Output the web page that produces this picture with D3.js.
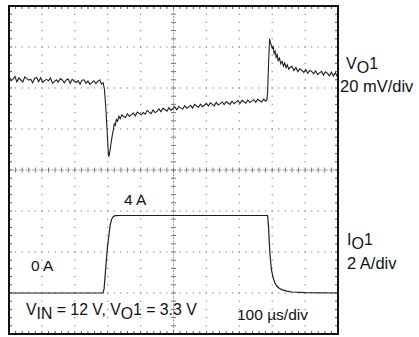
<!DOCTYPE html>
<html>
<head>
<meta charset="utf-8">
<script src="https://cdn.jsdelivr.net/npm/d3@7"></script>
<style>
  html, body { margin: 0; padding: 0; background: #fff; }
  svg { display: block; }
  text { font-family: "Liberation Sans", Arial, Helvetica, sans-serif; fill: #111; }
</style>
</head>
<body>
<svg id="chart" width="419" height="337"></svg>
<script>
// ---------- DATA ----------
// Time axis: 10 divisions x 100 µs
const timeDomain = [0, 1000];          // µs
const voltDomain = [-80, 80];          // mV offset of VO1 (20 mV/div, 8 div)
const currDomain = [-2, 14];           // A (2 A/div, 8 div)

// VO1 trace [time µs, mV deviation]
const voTrace = [
  [0,45.8],[6,43.6],[12,44.2],[18,45.6],[24,43.0],[30,44.9],[36,43.9],[42,42.9],[48,45.4],[54,44.6],
  [60,43.8],[66,44.3],[72,42.6],[78,44.8],[84,45.2],[90,43.1],[96,45.0],[102,42.8],[108,43.6],[114,44.2],
  [120,43.5],[126,44.9],[132,42.4],[138,43.1],[144,44.0],[150,42.9],[156,44.6],[162,43.9],[168,42.5],
  [174,43.9],[180,44.4],[186,42.2],[192,44.3],[198,43.4],[204,42.7],[210,43.6],[216,41.9],[222,43.8],
  [228,44.0],[234,42.3],[240,43.4],[246,41.8],[252,42.6],[258,43.5],[264,42.1],[270,43.2],[276,44.0],
  [281,41.9],[286,42.6],
  [290,39.5],[294,31.0],[298,20.0],[301,11.0],[303,6.5],[305,7.5],[308,10.5],[311,14.0],
  [314,17.0],[317,19.5],[320,22.5],[323,21.8],[326,24.6],[330,23.8],[334,26.2],[338,25.0],
  [343,26.9],[348,26.1],[354,25.6],[360,27.4],[366,26.1],[372,27.0],[378,27.8],[384,26.4],[390,28.3],
  [396,27.6],[402,26.9],[408,28.0],[414,27.2],[420,29.1],[426,28.2],[432,27.5],[438,29.3],[444,28.0],
  [450,28.6],[456,29.8],[462,28.4],[468,30.1],[474,29.5],[480,28.7],[486,30.4],[492,29.2],[498,29.9],
  [504,30.8],[510,29.4],[516,31.0],[522,30.3],[528,29.8],[534,31.4],[540,30.1],[546,30.7],[552,31.6],
  [558,30.2],[564,32.0],[570,31.2],[576,30.6],[582,32.1],[588,30.9],[594,31.6],[600,32.5],[606,31.2],
  [612,32.8],[618,32.0],[624,31.3],[630,33.0],[636,31.7],[642,32.4],[648,33.2],[654,31.9],[660,33.4],
  [666,32.7],[672,32.0],[678,33.6],[684,32.3],[690,33.1],[696,33.9],[702,32.4],[708,34.0],[714,33.3],
  [720,32.6],[726,34.2],[732,32.9],[738,33.6],[744,34.3],[750,33.0],[756,34.5],[762,33.8],[768,33.2],
  [774,34.6],[780,33.6],[784,34.2],
  [786,38.0],[789,52.0],[792,64.0],[794,62.5],[797,61.0],[800,59.5],[803,60.2],[806,56.8],
  [809,57.9],[812,55.0],[815,56.2],[818,53.4],[822,54.6],[826,51.8],[830,53.0],[834,50.7],
  [838,52.2],[842,49.9],[846,51.3],[850,49.2],[855,50.1],[860,50.6],[866,48.5],[872,50.0],[878,48.0],
  [884,49.4],[890,48.6],[896,47.6],[902,49.0],[908,47.2],[914,48.6],[920,48.1],[926,46.9],[932,48.4],
  [938,46.5],[944,47.4],[950,48.1],[956,46.3],[962,47.9],[968,47.1],[974,46.0],[980,47.7],[986,45.8],
  [992,47.5],[996,46.0],[1000,47.0]
];

// IO1 trace [time µs, A]
const ioTrace = [
  [0,0],[286,0],[289,0.2],[292,0.8],[296,1.6],[299,2.2],[302,2.6],[305,3.0],[308,3.35],
  [312,3.6],[317,3.72],[322,3.77],[340,3.78],[786,3.78],[789,3.2],[791,2.5],[793,1.95],
  [796,1.4],[798,1.12],[803,0.73],[808,0.5],[814,0.34],[822,0.22],[833,0.14],[845,0.09],
  [860,0.05],[900,0.02],[1000,0]
];

const xDivisions = 10, yDivisions = 8, minorPerDiv = 5;

// ---------- LAYOUT ----------
const plot = { left: 9, top: 6, right: 338, bottom: 334 };
const svg = d3.select("#chart");

const x = d3.scaleLinear().domain(timeDomain).range([plot.left, plot.right]);
const yV = d3.scaleLinear().domain(voltDomain).range([plot.bottom, plot.top]);
const yI = d3.scaleLinear().domain(currDomain).range([plot.bottom, plot.top]);

// graticule scales in division units
const gx = d3.scaleLinear().domain([0, xDivisions]).range([plot.left, plot.right]);
const gy = d3.scaleLinear().domain([0, yDivisions]).range([plot.top, plot.bottom]);

const grid = svg.append("g");
const majorX = d3.range(1, xDivisions);
const majorY = d3.range(1, yDivisions);
const minorX = d3.range(0, xDivisions * minorPerDiv + 1).map(i => i / minorPerDiv);
const minorY = d3.range(0, yDivisions * minorPerDiv + 1).map(i => i / minorPerDiv);
const cx = xDivisions / 2, cy = yDivisions / 2;

// dotted graticule lines
majorX.filter(d => d !== cx).forEach(d => {
  grid.selectAll(null).data(minorY.slice(1, -1)).enter().append("rect")
    .attr("x", gx(d) - 0.6).attr("y", v => gy(v) - 0.6)
    .attr("width", 1.2).attr("height", 1.2).attr("fill", "#8a8a8a");
});
majorY.filter(d => d !== cy).forEach(d => {
  grid.selectAll(null).data(minorX.slice(1, -1)).enter().append("rect")
    .attr("x", v => gx(v) - 0.6).attr("y", gy(d) - 0.6)
    .attr("width", 1.2).attr("height", 1.2).attr("fill", "#8a8a8a");
});

// center cross lines
grid.append("line").attr("x1", plot.left).attr("x2", plot.right)
  .attr("y1", gy(cy)).attr("y2", gy(cy))
  .attr("stroke", "#9a9a9a").attr("stroke-width", 1).attr("stroke-dasharray", "2,1.3");
grid.append("line").attr("y1", plot.top).attr("y2", plot.bottom)
  .attr("x1", gx(cx)).attr("x2", gx(cx))
  .attr("stroke", "#9a9a9a").attr("stroke-width", 1).attr("stroke-dasharray", "2,1.3");
grid.selectAll(null).data(minorX).enter().append("line")
  .attr("x1", d => gx(d)).attr("x2", d => gx(d))
  .attr("y1", gy(cy) - 2.5).attr("y2", gy(cy) + 2.5)
  .attr("stroke", "#777").attr("stroke-width", 1);
grid.selectAll(null).data(minorY).enter().append("line")
  .attr("y1", d => gy(d)).attr("y2", d => gy(d))
  .attr("x1", gx(cx) - 2.5).attr("x2", gx(cx) + 2.5)
  .attr("stroke", "#777").attr("stroke-width", 1);

// edge ticks
const tickLen = 3;
grid.selectAll(null).data(minorX).enter().append("line")
  .attr("x1", d => gx(d)).attr("x2", d => gx(d))
  .attr("y1", plot.top).attr("y2", plot.top + tickLen)
  .attr("stroke", "#555").attr("stroke-width", 1);
grid.selectAll(null).data(minorX).enter().append("line")
  .attr("x1", d => gx(d)).attr("x2", d => gx(d))
  .attr("y1", plot.bottom).attr("y2", plot.bottom - tickLen)
  .attr("stroke", "#555").attr("stroke-width", 1);
grid.selectAll(null).data(minorY).enter().append("line")
  .attr("y1", d => gy(d)).attr("y2", d => gy(d))
  .attr("x1", plot.left).attr("x2", plot.left + tickLen)
  .attr("stroke", "#555").attr("stroke-width", 1);
grid.selectAll(null).data(minorY).enter().append("line")
  .attr("y1", d => gy(d)).attr("y2", d => gy(d))
  .attr("x1", plot.right).attr("x2", plot.right - tickLen)
  .attr("stroke", "#555").attr("stroke-width", 1);

// traces
const lineV = d3.line().x(d => x(d[0])).y(d => yV(d[1]));
const lineI = d3.line().x(d => x(d[0])).y(d => yI(d[1]));
svg.append("path").datum(voTrace).attr("d", lineV)
  .attr("fill", "none").attr("stroke", "#1e1e1e").attr("stroke-width", 1.1);
svg.append("path").datum(ioTrace).attr("d", lineI)
  .attr("fill", "none").attr("stroke", "#1e1e1e").attr("stroke-width", 1.2);

// frame
svg.append("rect")
  .attr("x", plot.left).attr("y", plot.top)
  .attr("width", plot.right - plot.left).attr("height", plot.bottom - plot.top)
  .attr("fill", "none").attr("stroke", "#111").attr("stroke-width", 2);

// ---------- TEXT ----------
function label(xp, yp, parts, size) {
  const t = svg.append("text").attr("x", xp).attr("y", yp).style("font-size", size + "px");
  parts.forEach(p => {
    const s = t.append("tspan").text(p.t);
    if (p.dy) s.attr("dy", p.dy);
  });
  return t;
}
const sub = 4;
label(346, 69, [{t:"V"},{t:"O",dy:3.5},{t:"1",dy:-3.5}], 16);
label(340, 92, [{t:"20 mV/div"}], 16.5);
label(347, 245, [{t:"I"},{t:"O",dy:3.5},{t:"1",dy:-3.5}], 16);
label(347, 269, [{t:"2 A/div"}], 16.5);
label(124, 205, [{t:"4 A"}], 15.5);
label(31, 271, [{t:"0 A"}], 15.5);
label(26, 315, [{t:"V"},{t:"IN",dy:sub},{t:" = 12 V, V",dy:-sub},{t:"O",dy:sub},{t:"1 = 3.3 V",dy:-sub}], 15.8);
label(237, 320, [{t:"100 µs/div"}], 15.5);
</script>
</body>
</html>
